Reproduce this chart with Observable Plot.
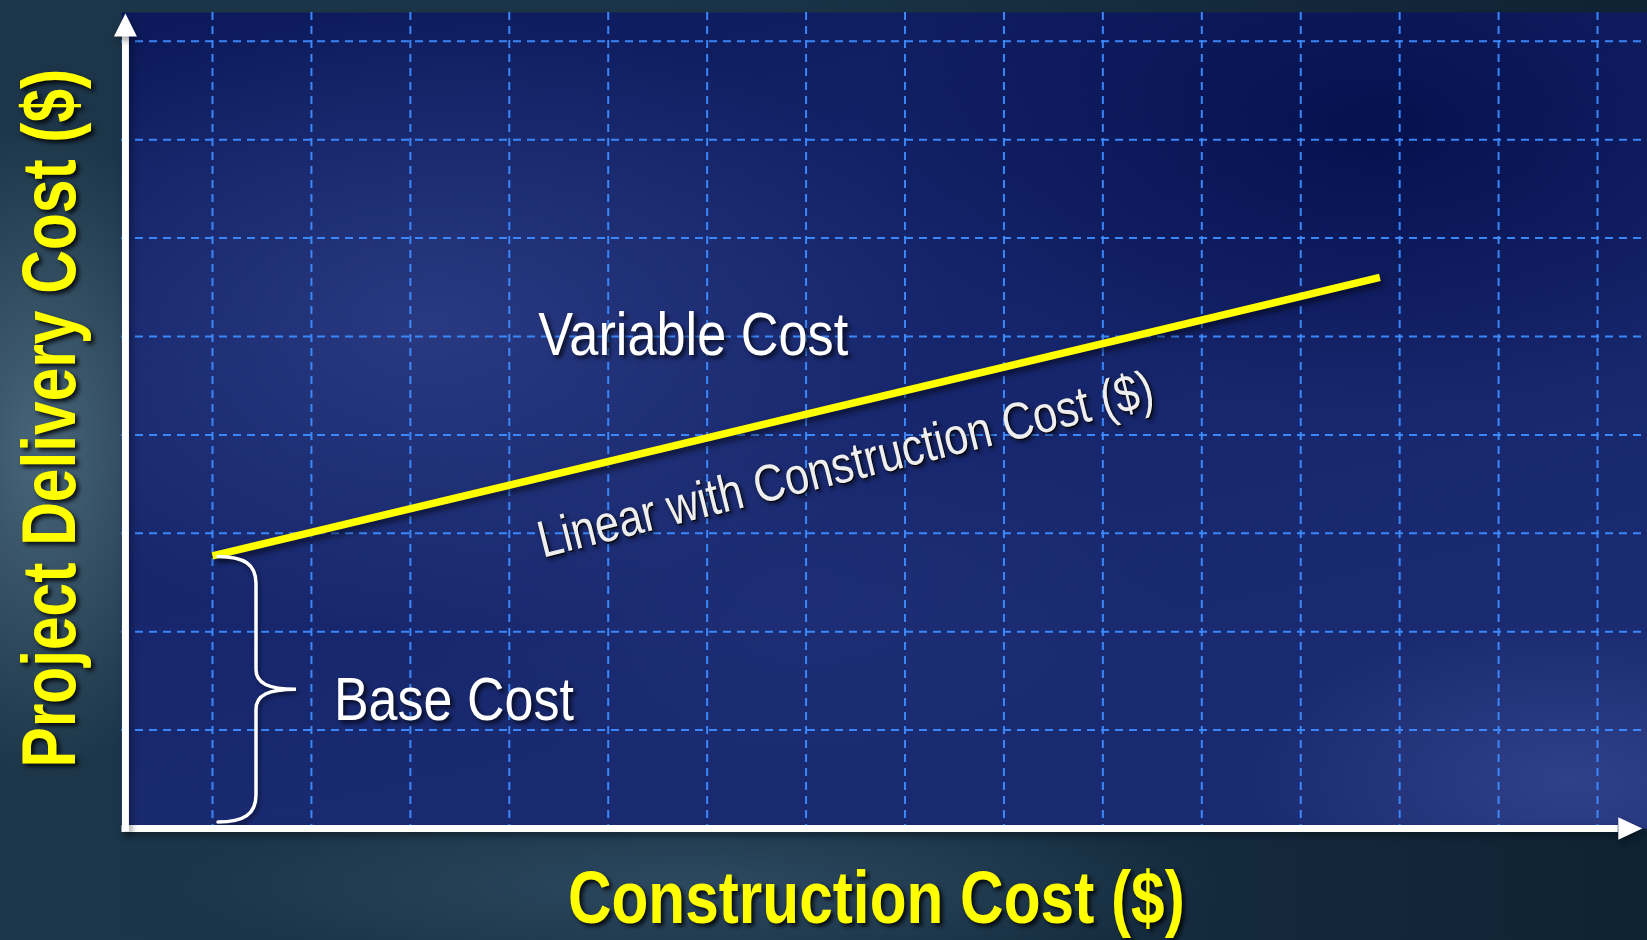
<!DOCTYPE html>
<html>
<head>
<meta charset="utf-8">
<script src="https://cdn.jsdelivr.net/npm/d3@7"></script>
<script src="https://cdn.jsdelivr.net/npm/@observablehq/plot@0.6"></script>
<style>
  html, body { margin: 0; padding: 0; background: #16303f; overflow: hidden; }
  #chart svg { display: block; }
</style>
</head>
<body>
<div id="chart"></div>
<script>
// Graph-paper grid, in grid units
const gridXs = [1, 2, 3, 4, 5, 6, 7, 8, 9, 10, 11, 12, 13, 14, 15];
const gridYs = [1, 2, 3, 4, 5, 6, 7, 8];

// Project delivery cost: a fixed base cost, then rising linearly with construction cost
const costX = [1, 12.8];
const costY = [2.77, 5.6];
const baseCost = costY[0];

// Annotation labels and their anchor points (grid units)
const labelText = ["Variable Cost", "Base Cost"];
const labelX = [5.86, 3.44];
const labelY = [4.81, 1.1];
const slopeText = ["Linear with Construction Cost ($)"];
const slopeX = [7.44];
const slopeY = [3.53];

// Axis titles
const xTitle = ["Construction Cost ($)"];
const xTitleX = [7.71];
const xTitleY = [-0.96];
const yTitle = ["Project Delivery Cost ($)"];
const yTitleX = [-0.385];
const yTitleY = [4.17];

// Where the two axes sit, in grid units
const axisX = 0.12;      // vertical axis position
const axisTop = 8.05;    // base of the vertical arrowhead
const axisLeft = 0.085;  // left end of the horizontal axis
const axisRight = 15.21; // base of the horizontal arrowhead

const costLine = costX.map((x, i) => ({x, y: costY[i]}));
const labels = labelText.map((t, i) => ({t, x: labelX[i], y: labelY[i]}));
const slope = slopeText.map((t, i) => ({t, x: slopeX[i], y: slopeY[i]}));
const xt = xTitle.map((t, i) => ({t, x: xTitleX[i], y: xTitleY[i]}));
const yt = yTitle.map((t, i) => ({t, x: yTitleX[i], y: yTitleY[i]}));

const sans = "'Liberation Sans', Arial, Helvetica, sans-serif";

// Curly brace spanning the base cost, drawn through the x/y scales
function braceMark(index, scales) {
  const x = scales.x, y = scales.y;
  const x0 = x(costX[0]) + 6;
  const top = y(baseCost) + 1;
  const bot = y(0) - 6;
  const mid = (top + bot) / 2;
  const xm = x0 + 38, xtip = x0 + 78;
  const d = [
    `M${x0},${top}`,
    `C${x0 + 26},${top} ${xm},${top + 8} ${xm},${top + 27}`,
    `L${xm},${mid - 20}`,
    `C${xm},${mid - 6} ${xm + 12},${mid} ${xtip},${mid}`,
    `C${xm + 12},${mid} ${xm},${mid + 6} ${xm},${mid + 20}`,
    `L${xm},${bot - 27}`,
    `C${xm},${bot - 8} ${x0 + 26},${bot} ${x0},${bot}`
  ].join(" ");
  const g = d3.create("svg:g").attr("aria-description", "brace");
  g.append("path")
    .attr("d", d)
    .attr("fill", "none")
    .attr("stroke", "#ffffff")
    .attr("stroke-width", 3.5)
    .attr("stroke-linecap", "round");
  return g.node();
}

const gridStyle = {stroke: "#3d8cff", strokeWidth: 2, strokeDasharray: "8,6", strokeOpacity: 0.95};

const plot = Plot.plot({
  width: 1647,
  height: 940,
  marginTop: 12,
  marginLeft: 121,
  marginRight: 0,
  marginBottom: 112,
  x: {domain: [0, 16], range: [113.07, 1695.95], axis: null},
  y: {domain: [0, 9], range: [828, 828 - 9 * 98.4], axis: null},
  marks: [
    // blueprint panel
    Plot.frame({fill: "url(#panelBase)", stroke: "none"}),
    Plot.frame({fill: "url(#panelDark)", stroke: "none"}),
    Plot.frame({fill: "url(#panelGlowA)", stroke: "none"}),
    Plot.frame({fill: "url(#panelGlowB)", stroke: "none"}),
    Plot.frame({fill: "url(#panelGlowC)", stroke: "none"}),
    // dashed graph-paper grid
    Plot.ruleX(gridXs, gridStyle),
    Plot.ruleY(gridYs, gridStyle),
    // cost line
    Plot.line(costLine, {x: "x", y: "y", stroke: "#ffff00", strokeWidth: 7.5, strokeLinecap: "butt", ariaDescription: "cost"}),
    braceMark,
    // axes with arrowheads
    Plot.ruleY([0], {x1: axisLeft, x2: axisRight, stroke: "#ffffff", strokeWidth: 7, ariaDescription: "axis"}),
    Plot.ruleX([axisX], {y1: -0.035, y2: axisTop, stroke: "#ffffff", strokeWidth: 7, ariaDescription: "axis"}),
    Plot.vector([{x: axisRight, y: 0}], {x: "x", y: "y", shape: "spike", anchor: "start", length: 24, r: 11.3, rotate: 90, fill: "#ffffff", stroke: "none", ariaDescription: "axis"}),
    Plot.vector([{x: axisX, y: axisTop}], {x: "x", y: "y", shape: "spike", anchor: "start", length: 23, r: 11.5, rotate: 0, fill: "#ffffff", stroke: "none", ariaDescription: "axis"}),
    // annotations
    Plot.text(labels, {x: "x", y: "y", text: "t", fill: "#ffffff", fontSize: 61, fontFamily: sans, textAnchor: "middle", lineAnchor: "bottom", ariaDescription: "label"}),
    Plot.text(slope, {x: "x", y: "y", text: "t", fill: "#eeeeee", fontSize: 52, fontFamily: sans, textAnchor: "middle", lineAnchor: "bottom", rotate: -14, ariaDescription: "slope"}),
    // axis titles
    Plot.text(xt, {x: "x", y: "y", text: "t", fill: "#ffff00", fontSize: 75, fontWeight: "bold", fontFamily: sans, textAnchor: "middle", lineAnchor: "bottom", ariaDescription: "title"}),
    Plot.text(yt, {x: "x", y: "y", text: "t", fill: "#ffff00", fontSize: 76, fontWeight: "bold", fontFamily: sans, textAnchor: "middle", lineAnchor: "bottom", rotate: -90, ariaDescription: "title"})
  ]
});

document.getElementById("chart").appendChild(plot);

const svg = d3.select(plot);
svg.style("background",
  "radial-gradient(ellipse 170px 330px at 40px 450px, rgba(88,118,138,0.75), rgba(88,118,138,0) 100%)," +
  "radial-gradient(ellipse 520px 90px at 700px 885px, rgba(60,92,118,0.55), rgba(60,92,118,0) 100%)," +
  "linear-gradient(90deg, #1c3548 0%, #1a3346 45%, #0e2233 100%)");
svg.style("overflow", "visible");

// gradients for the panel
const defs = svg.insert("defs", ":first-child");
const lin = defs.append("linearGradient").attr("id", "panelBase")
  .attr("gradientUnits", "userSpaceOnUse")
  .attr("x1", 121).attr("y1", 12).attr("x2", 300).attr("y2", 828);
lin.append("stop").attr("offset", 0).attr("stop-color", "#0c1a5b");
lin.append("stop").attr("offset", 0.5).attr("stop-color", "#15246a");
lin.append("stop").attr("offset", 1).attr("stop-color", "#1a2a70");

function radial(id, cx, cy, r, sy, color, opacity) {
  const g = defs.append("radialGradient").attr("id", id)
    .attr("gradientUnits", "userSpaceOnUse")
    .attr("cx", 0).attr("cy", 0).attr("r", r)
    .attr("gradientTransform", `translate(${cx} ${cy}) scale(1 ${sy})`);
  g.append("stop").attr("offset", 0).attr("stop-color", color).attr("stop-opacity", opacity);
  g.append("stop").attr("offset", 1).attr("stop-color", color).attr("stop-opacity", 0);
}
radial("panelDark", 1380, 130, 520, 0.55, "#020c48", 0.8);
radial("panelGlowA", 430, 320, 520, 0.6, "#3a4c96", 0.55);
radial("panelGlowB", 1570, 780, 330, 0.5, "#3e509a", 0.6);
radial("panelGlowC", 800, 600, 380, 0.5, "#2a3a86", 0.3);

// shadows
svg.selectAll('g[aria-description="cost"]').style("filter", "drop-shadow(3px 4px 3px rgba(0,0,0,0.55))");
svg.selectAll('g[aria-description="axis"]').style("filter", "drop-shadow(3px 4px 3px rgba(0,0,0,0.35))");
svg.selectAll('g[aria-description="brace"]').style("filter", "drop-shadow(2px 3px 2px rgba(0,0,0,0.45))");
svg.selectAll('g[aria-description="label"]').style("filter", "drop-shadow(3px 3px 2px rgba(0,0,0,0.7))");
svg.selectAll('g[aria-description="slope"]').style("filter", "drop-shadow(1px 1px 0px rgba(0,0,0,0.9)) drop-shadow(2px 2px 2px rgba(0,0,0,0.6))");
svg.selectAll('g[aria-description="title"]').style("filter", "drop-shadow(3px 3px 2px rgba(0,0,0,0.8))");

// condense each text run horizontally to its set length
const runLength = {
  "Variable Cost": 310,
  "Base Cost": 240,
  "Linear with Construction Cost ($)": 633,
  "Construction Cost ($)": 617,
  "Project Delivery Cost ($)": 699
};
svg.selectAll("text").each(function() {
  const len = runLength[this.textContent];
  if (!len) return;
  const natural = this.getComputedTextLength();
  if (!(natural > 0)) return;
  const sx = len / natural;
  const x = +this.getAttribute("x") || 0;
  const y = +this.getAttribute("y") || 0;
  this.removeAttribute("x");
  this.removeAttribute("y");
  const t = this.getAttribute("transform") || "";
  this.setAttribute("transform", `${t} translate(${x},${y}) scale(${sx},1)`.trim());
});
</script>
</body>
</html>
